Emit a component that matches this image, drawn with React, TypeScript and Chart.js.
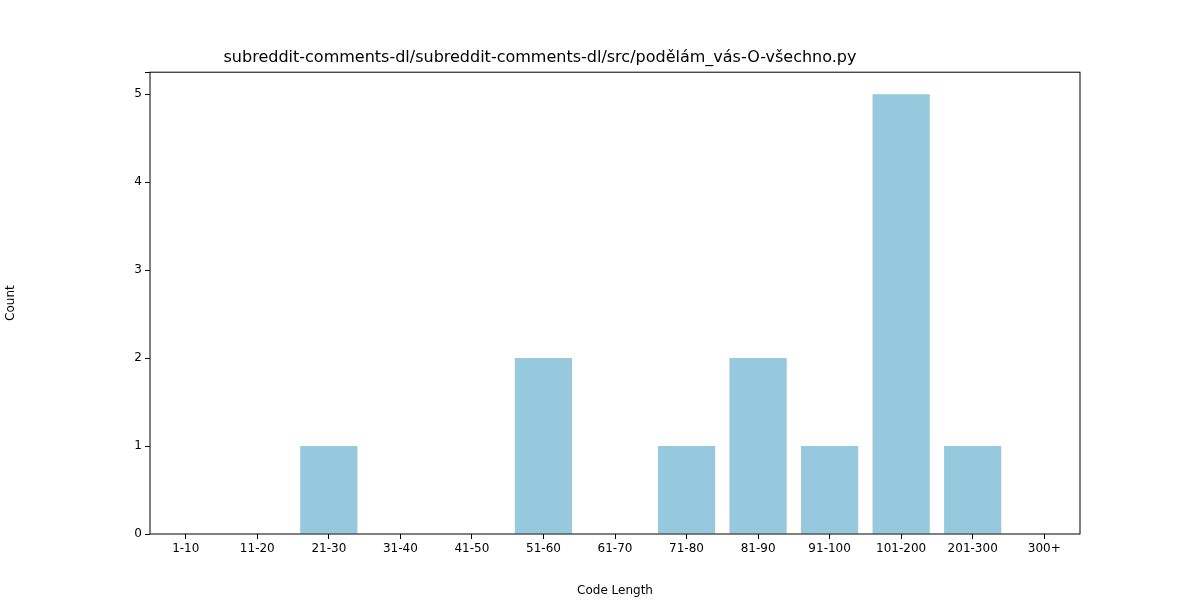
import React, { useRef, useEffect } from "react";
import Chart from "chart.js/auto";

const categories = ["1-10", "11-20", "21-30", "31-40", "41-50", "51-60", "61-70", "71-80", "81-90", "91-100", "101-200", "201-300", "300+"];
const counts = [0, 0, 1, 0, 0, 2, 0, 1, 2, 1, 5, 1, 0];
const chartTitle = "subreddit-comments-dl/subreddit-comments-dl/src/podělám_vás-O-všechno.py";

const frame = {
  id: "frame",
  afterDraw(chart: Chart) {
    const { ctx, chartArea: a } = chart;
    ctx.save();
    ctx.strokeStyle = "#000";
    ctx.lineWidth = 1;
    ctx.strokeRect(a.left, a.top, a.right - a.left, a.bottom - a.top);
    ctx.restore();
  },
};

const App: React.FC = () => {
  const canvasRef = useRef<HTMLCanvasElement | null>(null);

  useEffect(() => {
    document.body.style.margin = "0";
    if (!canvasRef.current) return;
    const font = { family: "DejaVu Sans", size: 12 };
    const chart = new Chart(canvasRef.current, {
      type: "bar",
      data: {
        labels: categories,
        datasets: [{ data: counts, backgroundColor: "#96c9dd", categoryPercentage: 1, barPercentage: 0.8 }],
      },
      options: {
        animation: false,
        responsive: false,
        layout: { padding: { left: 0, right: 120, top: 0, bottom: 0 } },
        plugins: {
          legend: { display: false },
          tooltip: { enabled: false },
          title: {
            display: true,
            text: chartTitle,
            color: "#000",
            font: { family: "DejaVu Sans", size: 16, weight: "normal" },
            padding: { top: 48, bottom: 5 },
          },
        },
        scales: {
          x: {
            grid: { display: true, drawOnChartArea: false, offset: false, tickLength: 5, color: "#000" },
            border: { display: false },
            ticks: { color: "#000", font, maxRotation: 0, autoSkip: false },
            title: { display: true, text: "Code Length", color: "#000", font, padding: 2 },
            afterFit: (s: any) => { s.height = 66; },
          },
          y: {
            min: 0,
            max: 5.25,
            grid: { display: true, drawOnChartArea: false, tickLength: 5, color: "#000" },
            border: { display: false },
            ticks: { stepSize: 1, color: "#000", font, callback: (v: any) => (Number.isInteger(v) ? v : "") },
            title: { display: true, text: "Count", color: "#000", font },
            afterFit: (s: any) => { s.width = 150; },
          },
        },
      },
      plugins: [frame],
    });
    return () => chart.destroy();
  }, []);

  return <canvas ref={canvasRef} width={1200} height={600} style={{ display: "block" }} />;
};

export default App;
